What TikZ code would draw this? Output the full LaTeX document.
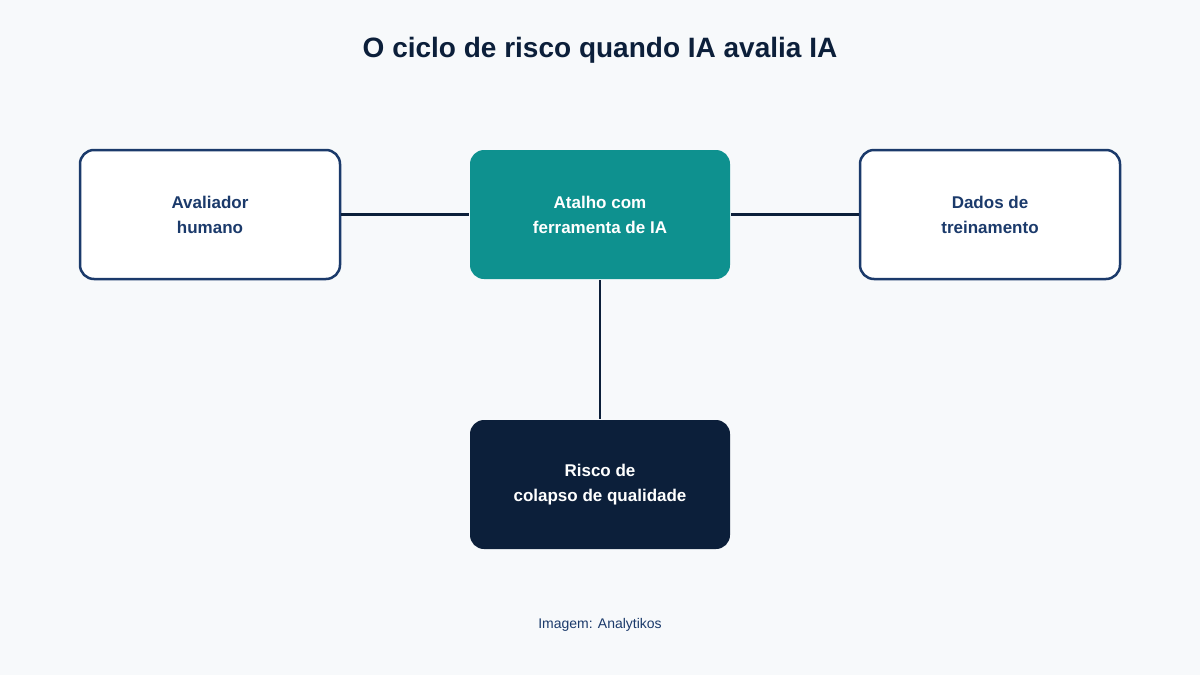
\documentclass[tikz,border=0pt]{standalone}
\usepackage{fontspec}
\setmainfont{Liberation Sans}
\begin{document}
\definecolor{bg}{HTML}{F7F9FB}
\definecolor{navy}{HTML}{1B3A6B}
\definecolor{teal}{HTML}{0E918F}
\definecolor{dark}{HTML}{0C1F3A}
\begin{tikzpicture}[x=1pt,y=-1pt,
  box/.style={rounded corners=14pt,minimum width=260pt,minimum height=129pt,line width=2.5pt,align=center,font=\fontsize{17}{25}\selectfont\bfseries},
  wbox/.style={box,draw=navy,fill=white,text=navy},
  tbox/.style={box,fill=teal,text=white},
  dbox/.style={box,fill=dark,text=white},
  link/.style={draw=dark,line width=2.5pt}]
\fill[bg] (0,0) rectangle (1200,675);
\useasboundingbox (0,0) rectangle (1200,675);
\node[font=\fontsize{28}{32}\selectfont\bfseries,text=dark] (title) at (600,50) {O ciclo de risco quando IA avalia IA};
\node[wbox] (h) at (210,214.5) {Avaliador\\humano};
\node[tbox] (a) at (600,214.5) {Atalho com\\ferramenta de IA};
\node[wbox] (d) at (990,214.5) {Dados de\\treinamento};
\node[dbox] (r) at (600,484.5) {Risco de\\colapso de qualidade};
\draw[link] (h) -- (a);
\draw[link] (a) -- (d);
\draw[link] (a) -- (r);
\node[font=\fontsize{14}{16}\selectfont,text=navy] (f) at (600,625) {Imagem: Analytikos};
\end{tikzpicture}
\end{document}
